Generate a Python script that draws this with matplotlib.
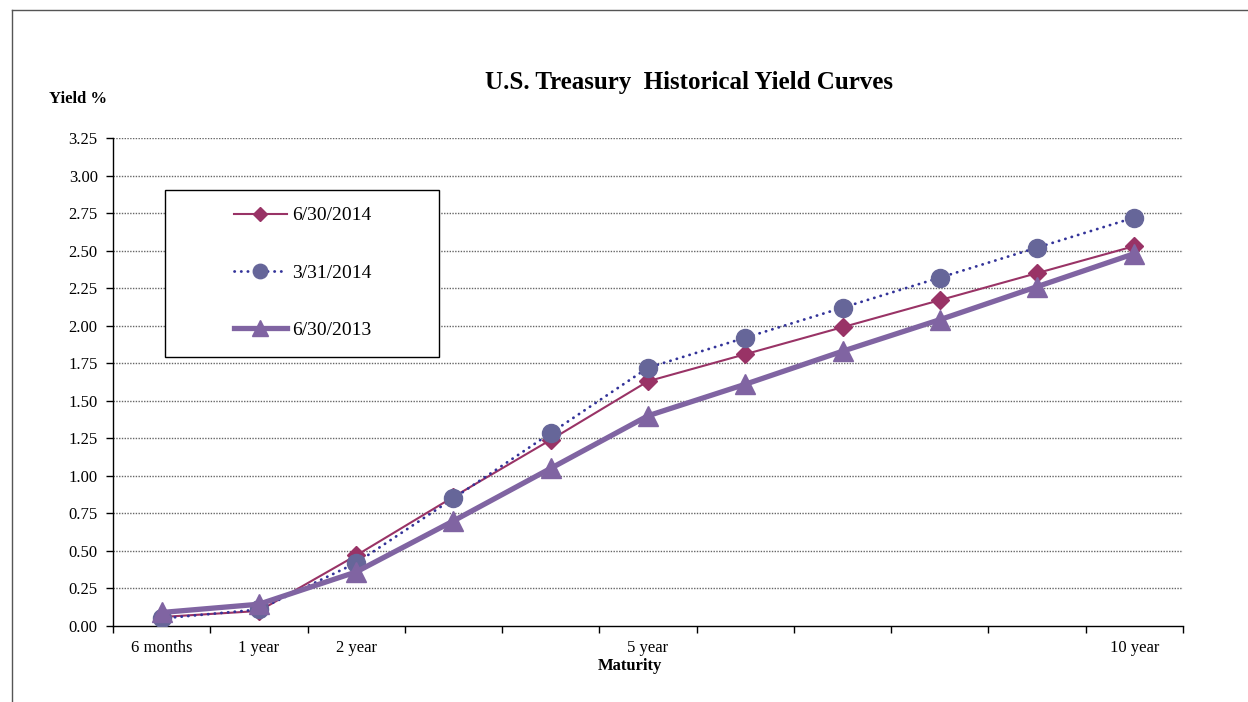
import matplotlib
matplotlib.use("Agg")
import matplotlib.pyplot as plt
from matplotlib.lines import Line2D
from matplotlib.patches import Rectangle
import numpy as np

plt.rcParams['font.family'] = ['Liberation Serif', 'DejaVu Serif']

categories = ["6 months", "1 year", "2 year", "3 year", "4 year", "5 year",
              "6 year", "7 year", "8 year", "9 year", "10 year"]
tick_labels = ["6 months", "1 year", "2 year", "", "", "5 year",
               "", "", "", "", "10 year"]
yield_2014_06 = [0.06, 0.10, 0.47, 0.86, 1.24, 1.63, 1.81, 1.99, 2.17, 2.35, 2.53]
yield_2014_03 = [0.05, 0.11, 0.42, 0.85, 1.285, 1.72, 1.92, 2.12, 2.32, 2.52, 2.72]
yield_2013_06 = [0.09, 0.145, 0.36, 0.70, 1.05, 1.40, 1.61, 1.83, 2.04, 2.26, 2.48]
series_labels = ["6/30/2014", "3/31/2014", "6/30/2013"]
y_ticks = [0.0, 0.25, 0.5, 0.75, 1.0, 1.25, 1.5, 1.75, 2.0, 2.25, 2.5, 2.75, 3.0, 3.25]

W, H = 1248, 702
fig = plt.figure(figsize=(W / 100, H / 100), dpi=100)
ax = fig.add_axes([113 / W, 1 - 626 / H, (1183 - 113) / W, (626 - 138) / H])

x = np.arange(len(categories))

l1, = ax.plot(x, yield_2014_06, color='#993366', lw=1.5, marker='D', ms=9.5,
              markerfacecolor='#993366', markeredgecolor='#993366', zorder=3)
l2, = ax.plot(x, yield_2014_03, color='#333399', lw=2.0, linestyle=(0, (0.1, 2.3)),
              dash_capstyle='round', marker='o', ms=13,
              markerfacecolor='#666699', markeredgecolor='#666699', zorder=4)
l3, = ax.plot(x, yield_2013_06, color='#8064A2', lw=3.8, marker='^', ms=14,
              markerfacecolor='#8064A2', markeredgecolor='#8064A2', zorder=5)

ax.set_xlim(-0.5, len(categories) - 0.5)
ax.set_ylim(0, 3.25)
ax.set_yticks(y_ticks)
ax.set_yticklabels([f"{v:.2f}" for v in y_ticks])
ax.set_xticks(x)
ax.set_xticklabels(tick_labels)
ax.set_xticks(np.arange(-0.5, len(categories), 1.0), minor=True)
ax.tick_params(axis='x', which='major', length=0, pad=10, labelsize=12)
ax.tick_params(axis='x', which='minor', length=5, width=1, direction='out')
ax.tick_params(axis='y', length=5, width=1, direction='out', pad=6, labelsize=12)

for v in y_ticks[1:]:
    ax.axhline(v, color='#666666', lw=1.0, linestyle=(0, (1, 1)), zorder=1)

for s in ['top', 'right']:
    ax.spines[s].set_visible(False)
for s in ['left', 'bottom']:
    ax.spines[s].set_linewidth(1.0)
    ax.spines[s].set_color('black')

# legend box
rect = Rectangle((165 / W, 1 - 357 / H), (439 - 165) / W, (357 - 190) / H,
                 transform=fig.transFigure, facecolor='white', edgecolor='black',
                 lw=1.0, zorder=6)
fig.patches.append(rect)
leg = fig.legend([l1, l2, l3], series_labels, loc='center',
                 bbox_to_anchor=(303 / W, 1 - 273 / H), frameon=False,
                 fontsize=14, handlelength=2.7, handletextpad=0.3,
                 labelspacing=2.05, markerscale=0.8)
leg.set_zorder(7)

fig.text(689 / W, 1 - 82 / H, "U.S. Treasury  Historical Yield Curves",
         ha='center', va='center', fontsize=18, fontweight='bold')
fig.text(78 / W, 1 - 99 / H, "Yield %", ha='center', va='center',
         fontsize=12, fontweight='bold')
fig.text(630 / W, 1 - 666 / H, "Maturity", ha='center', va='center',
         fontsize=12, fontweight='bold')

# outer borders
fig.add_artist(Line2D([12 / W, 1], [1 - 10 / H, 1 - 10 / H], transform=fig.transFigure,
                      color='#555555', lw=1.0))
fig.add_artist(Line2D([12 / W, 12 / W], [0, 1 - 10 / H], transform=fig.transFigure,
                      color='#555555', lw=1.0))

fig.savefig("out.png", dpi=100)
